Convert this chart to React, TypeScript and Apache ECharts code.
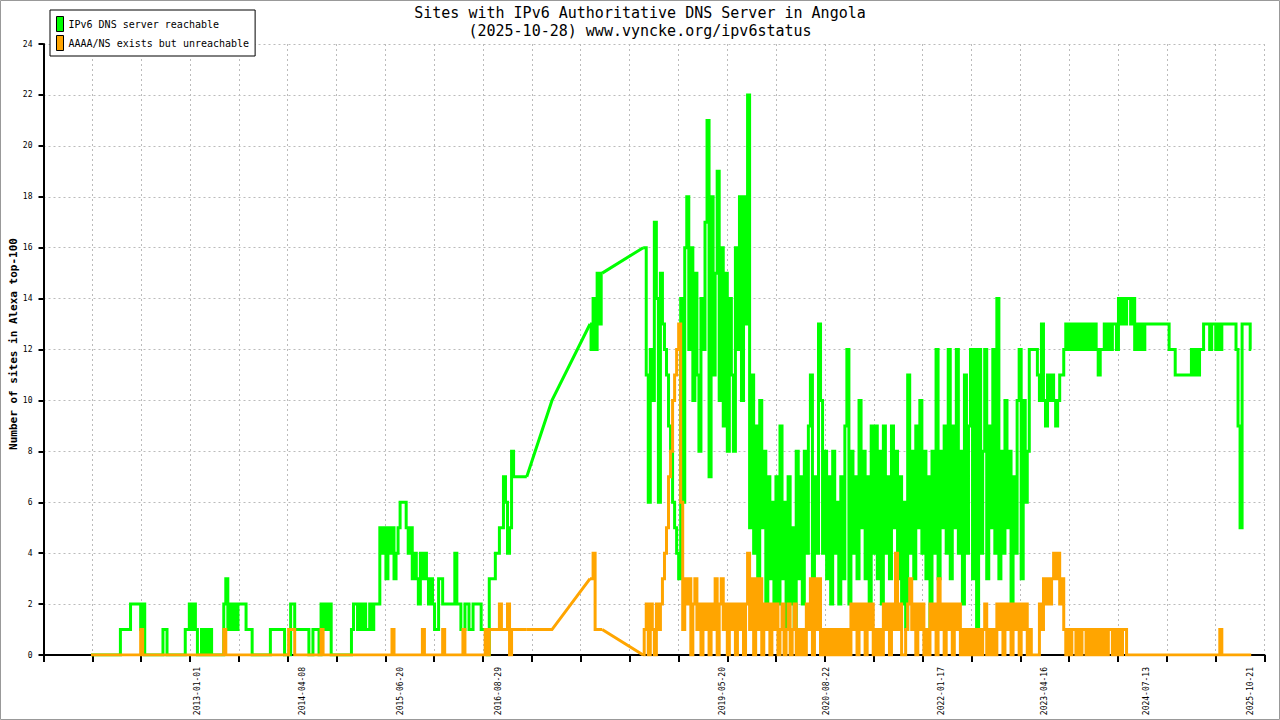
import { useEffect, useRef } from "react";
import * as echarts from "echarts";

const TITLE_LINES = [
  "Sites with IPv6 Authoritative DNS Server in Angola",
  "(2025-10-28) www.vyncke.org/ipv6status",
];
const SERIES_NAMES = ["IPv6 DNS server reachable", "AAAA/NS exists but unreachable"];
const SERIES_COLORS = ["#00ff00", "#ffa500"];
const Y_TITLE = "Number of sites in Alexa top-100";
const X_LABEL_DATES = [
  "2013-01-01", "2014-04-08", "2015-06-20", "2016-08-29", "2019-05-20",
  "2020-08-22", "2022-01-17", "2023-04-16", "2024-07-13", "2025-10-21",
];
const X_MIN_DATE = "2011-02-15";
const X_MAX_DATE = "2025-12-20";
const X_TICK_COUNT = 25;
const Y_MAX = 24;
const Y_STEP = 2;

// samples every STEP_DAYS days, starting at each segment's start date
const STEP_DAYS = 9;

// segment A: 2011-09 .. 2016-12
const START_A = "2011-09-14";
const greenA = [
  0, 0, 0, 0, 0, 0, 0, 0, 0, 0,
  0, 0, 0, 0, 0, 1, 1, 1, 1, 1,
  2, 2, 2, 2, 2, 1, 2, 0, 0, 0,
  0, 0, 0, 0, 0, 0, 1, 1, 0, 0,
  0, 0, 0, 0, 0, 0, 0, 1, 1, 2,
  1, 2, 1, 0, 0, 1, 0, 1, 0, 1,
  0, 0, 0, 0, 0, 0, 2, 3, 1, 2,
  1, 2, 1, 2, 2, 2, 2, 1, 1, 1,
  0, 0, 0, 0, 0, 0, 0, 0, 0, 1,
  1, 1, 1, 1, 1, 1, 0, 0, 0, 2,
  2, 1, 1, 1, 1, 1, 1, 1, 0, 0,
  1, 1, 1, 0, 2, 1, 2, 1, 2, 0,
  0, 0, 0, 0, 0, 0, 0, 0, 0, 1,
  2, 2, 1, 2, 1, 2, 1, 1, 2, 1,
  2, 2, 2, 5, 4, 5, 3, 5, 4, 5,
  3, 4, 5, 6, 6, 6, 5, 4, 5, 3,
  4, 3, 2, 4, 3, 4, 3, 2, 3, 2,
  1, 1, 3, 3, 2, 2, 2, 2, 2, 2,
  4, 2, 2, 1, 1, 2, 2, 1, 1, 2,
  2, 2, 2, 1, 1, 1, 0, 3, 3, 3,
  4, 4, 5, 5, 7, 6, 4, 5, 8, 7,
  7, 7, 7, 7, 7, 7,
];
const orangeA = [
  0, 0, 0, 0, 0, 0, 0, 0, 0, 0,
  0, 0, 0, 0, 0, 0, 0, 0, 0, 0,
  0, 0, 0, 0, 0, 1, 0, 0, 0, 0,
  0, 0, 0, 0, 0, 0, 0, 0, 0, 0,
  0, 0, 0, 0, 0, 0, 0, 0, 0, 0,
  0, 0, 0, 0, 0, 0, 0, 0, 0, 0,
  0, 0, 0, 0, 0, 0, 1, 0, 0, 0,
  0, 0, 0, 0, 0, 0, 0, 0, 0, 0,
  0, 0, 0, 0, 0, 0, 0, 0, 0, 0,
  0, 0, 0, 0, 0, 0, 0, 0, 1, 1,
  1, 0, 0, 0, 0, 0, 0, 0, 0, 0,
  0, 0, 0, 0, 1, 0, 0, 0, 0, 0,
  0, 0, 0, 0, 0, 0, 0, 0, 0, 0,
  0, 0, 0, 0, 0, 0, 0, 0, 0, 0,
  0, 0, 0, 0, 0, 0, 0, 0, 0, 1,
  0, 0, 0, 0, 0, 0, 0, 0, 0, 0,
  0, 0, 0, 0, 1, 0, 0, 0, 0, 0,
  0, 0, 0, 0, 1, 0, 0, 0, 0, 0,
  0, 0, 0, 0, 1, 0, 0, 0, 0, 0,
  0, 0, 0, 0, 0, 1, 0, 1, 1, 1,
  1, 1, 2, 1, 1, 1, 2, 0, 1, 1,
  1, 1, 1, 1, 1, 1,
];

// sparse sample inside the 2017 gap
const GAP_DATES = ["2017-04-22"];
const greenGap = [10];
const orangeGap = [1];

// segment B: autumn 2017
const START_B = "2017-10-08";
const greenB = [13, 12, 14, 12, 15, 13, 15];
const orangeB = [3, 3, 4, 1, 1, 1, 1];

// segment C: 2018-06 .. 2025-10
const START_C = "2018-06-01";
const greenC = [
  16, 16, 11, 6, 12, 10, 17, 14, 6, 15,
  13, 12, 11, 9, 8, 6, 5, 4, 3, 14,
  6, 16, 18, 12, 16, 10, 15, 11, 8, 14,
  12, 17, 21, 7, 18, 11, 15, 19, 10, 16,
  9, 15, 8, 14, 11, 8, 16, 12, 18, 10,
  18, 13, 22, 5, 11, 4, 9, 3, 10, 5,
  8, 2, 7, 3, 6, 1, 7, 2, 9, 3,
  6, 1, 7, 2, 5, 1, 8, 3, 7, 2,
  8, 4, 9, 11, 3, 7, 4, 13, 10, 4,
  8, 3, 7, 2, 8, 4, 6, 2, 7, 3,
  9, 12, 2, 8, 4, 7, 3, 10, 5, 8,
  3, 7, 2, 9, 4, 9, 3, 8, 2, 9,
  4, 7, 3, 9, 5, 8, 3, 7, 2, 6,
  1, 11, 4, 8, 3, 9, 5, 10, 4, 8,
  3, 7, 1, 8, 4, 12, 3, 8, 5, 9,
  4, 12, 3, 9, 5, 12, 4, 8, 2, 11,
  4, 9, 12, 3, 12, 1, 12, 4, 8, 12,
  3, 9, 5, 12, 4, 14, 3, 8, 4, 10,
  5, 8, 2, 7, 4, 10, 12, 3, 10, 6,
  8, 12, 12, 12, 12, 11, 10, 13, 10, 9,
  11, 10, 11, 10, 9, 10, 11, 11, 12, 13,
  12, 13, 12, 13, 12, 13, 12, 13, 12, 13,
  12, 13, 12, 13, 12, 11, 12, 12, 13, 12,
  13, 12, 13, 13, 12, 14, 13, 14, 13, 14,
  14, 13, 14, 12, 13, 12, 13, 12, 13, 13,
  13, 13, 13, 13, 13, 13, 13, 13, 13, 13,
  12, 12, 12, 11, 11, 11, 11, 11, 11, 11,
  11, 12, 11, 12, 11, 12, 12, 13, 13, 13,
  12, 13, 13, 12, 13, 12, 13, 13, 13, 13,
  13, 13, 13, 12, 9, 5, 13, 13, 13, 13,
  12,
];
const orangeC = [
  0, 1, 2, 0, 2, 1, 0, 2, 1, 2,
  3, 4, 5, 7, 8, 10, 11, 12, 13, 6,
  1, 3, 2, 3, 0, 2, 3, 1, 2, 0,
  2, 1, 2, 0, 2, 1, 3, 0, 2, 3,
  1, 2, 0, 2, 1, 2, 0, 2, 1, 2,
  0, 2, 4, 1, 3, 0, 3, 1, 3, 0,
  2, 1, 2, 0, 2, 1, 2, 0, 1, 2,
  0, 1, 2, 0, 1, 2, 0, 1, 0, 1,
  0, 2, 1, 3, 0, 3, 1, 3, 0, 1,
  0, 1, 0, 1, 0, 1, 0, 1, 0, 1,
  0, 1, 0, 2, 1, 2, 0, 2, 1, 2,
  0, 2, 1, 2, 0, 1, 0, 1, 0, 2,
  1, 2, 0, 2, 1, 4, 1, 2, 0, 0,
  1, 2, 3, 1, 2, 0, 2, 1, 2, 0,
  1, 0, 2, 1, 2, 0, 3, 1, 2, 0,
  2, 1, 2, 0, 2, 1, 2, 0, 1, 0,
  1, 0, 1, 0, 1, 0, 1, 0, 1, 2,
  0, 1, 0, 1, 0, 2, 1, 2, 0, 2,
  1, 2, 0, 2, 1, 2, 0, 2, 1, 2,
  0, 1, 0, 0, 0, 0, 2, 1, 3, 2,
  3, 2, 3, 4, 3, 4, 2, 3, 1, 0,
  1, 0, 1, 1, 0, 1, 0, 1, 1, 0,
  1, 0, 1, 0, 1, 0, 1, 0, 1, 0,
  1, 1, 0, 1, 0, 1, 0, 1, 1, 0,
  0, 0, 0, 0, 0, 0, 0, 0, 0, 0,
  0, 0, 0, 0, 0, 0, 0, 0, 0, 0,
  0, 0, 0, 0, 0, 0, 0, 0, 0, 0,
  0, 0, 0, 0, 0, 0, 0, 0, 0, 0,
  0, 0, 0, 0, 0, 1, 0, 0, 0, 0,
  0, 0, 0, 0, 0, 0, 0, 0, 0, 0,
  0,
];

const DAY_MS = 86400000;
const MONO = "DejaVu Sans Mono";

type Pt = [number, number | null];

function ts(d: string): number {
  return Date.parse(d + "T00:00:00Z");
}

function sampled(start: string, values: number[]): Pt[] {
  const t0 = ts(start);
  return values.map((v, i) => [t0 + i * STEP_DAYS * DAY_MS, v] as Pt);
}

// a pair of empty points right after one segment and right before the next
function breakBetween(prev: Pt[], next: Pt[]): Pt[] {
  return [
    [prev[prev.length - 1][0] + DAY_MS / 4, null],
    [next[0][0] - DAY_MS / 4, null],
  ];
}

// daily-style data (drawn with vertical jumps), broken at the data gaps
function stepData(a: number[], b: number[], c: number[]): Pt[] {
  const A = sampled(START_A, a);
  const B = sampled(START_B, b);
  const C = sampled(START_C, c);
  return [...A, ...breakBetween(A, B), ...B, ...breakBetween(B, C), ...C];
}

// straight lines across the periods without daily data
function gapData(a: number[], gap: number[], b: number[], c: number[]): Pt[] {
  const A = sampled(START_A, a);
  const B = sampled(START_B, b);
  const C = sampled(START_C, c);
  const G = GAP_DATES.map((d, i) => [ts(d), gap[i]] as Pt);
  return [A[A.length - 1], ...G, B[0], [B[0][0] + DAY_MS, null], B[B.length - 1], C[0]];
}

function fmtDate(v: number): string {
  return new Date(v).toISOString().slice(0, 10);
}

function lineSeries(name: string, color: string, data: Pt[], step: boolean, z: number) {
  return {
    name,
    type: "line",
    xAxisIndex: 0,
    yAxisIndex: 0,
    data,
    color,
    step: step ? "middle" : false,
    symbol: "none",
    showSymbol: false,
    connectNulls: false,
    lineStyle: { color, width: 3, join: "miter" },
    z,
    silent: true,
  };
}

export default function App() {
  const ref = useRef<HTMLDivElement>(null);

  useEffect(() => {
    if (!ref.current) return;
    const chart = echarts.init(ref.current, null, { renderer: "svg", width: 1280, height: 720 });

    const option: any = {
      animation: false,
      backgroundColor: "#ffffff",
      grid: { left: 43.5, right: 15.5, top: 44, bottom: 65, containLabel: false },
      legend: {
        left: 50,
        top: 10,
        orient: "vertical",
        selectedMode: false,
        backgroundColor: "#ffffff",
        borderColor: "#000000",
        borderWidth: 1,
        borderRadius: 0,
        padding: [6, 6, 5, 6],
        itemGap: 3,
        itemWidth: 7,
        itemHeight: 15,
        itemStyle: { borderColor: "#000000", borderWidth: 1 },
        textStyle: { fontFamily: MONO, fontSize: 10, color: "#000000" },
        data: SERIES_NAMES.map((n) => ({ name: n, icon: "rect" })),
      },
      xAxis: [
        {
          type: "value",
          position: "bottom",
          min: ts(X_MIN_DATE),
          max: ts(X_MAX_DATE),
          axisLine: { show: false },
          axisTick: { show: false },
          splitLine: { show: false },
          axisLabel: {
            customValues: X_LABEL_DATES.map(ts),
            formatter: (v: number) => fmtDate(v),
            rotate: 90,
            margin: 12,
            fontFamily: MONO,
            fontSize: 8,
            color: "#000000",
          },
        },
        {
          type: "value",
          position: "bottom",
          min: 0,
          max: X_TICK_COUNT,
          interval: 1,
          axisLine: { show: true, onZero: false, lineStyle: { color: "#000000", width: 2 } },
          axisTick: { show: true, length: 7, lineStyle: { color: "#000000", width: 2 } },
          axisLabel: { show: false },
          splitLine: { show: true, lineStyle: { color: "#bbbbbb", width: 1, type: [2, 3] } },
        },
      ],
      yAxis: {
        type: "value",
        min: 0,
        max: Y_MAX,
        interval: Y_STEP,
        axisLine: { show: true, lineStyle: { color: "#000000", width: 2 } },
        axisTick: { show: true, length: 5, lineStyle: { color: "#000000", width: 2 } },
        axisLabel: { margin: 11, fontFamily: MONO, fontSize: 8, color: "#000000" },
        splitLine: { show: true, lineStyle: { color: "#bbbbbb", width: 1, type: [2, 3] } },
      },
      series: [
        lineSeries(SERIES_NAMES[0], SERIES_COLORS[0], stepData(greenA, greenB, greenC), true, 2),
        lineSeries("green-gap", SERIES_COLORS[0], gapData(greenA, greenGap, greenB, greenC), false, 2),
        lineSeries(SERIES_NAMES[1], SERIES_COLORS[1], stepData(orangeA, orangeB, orangeC), true, 3),
        lineSeries("orange-gap", SERIES_COLORS[1], gapData(orangeA, orangeGap, orangeB, orangeC), false, 3),
      ],
      graphic: [
        {
          type: "rect",
          silent: true,
          shape: { x: 0.5, y: 0.5, width: 1279, height: 719 },
          style: { fill: "none", stroke: "#999999", lineWidth: 1 },
        },
        {
          type: "text",
          x: 640,
          y: 13,
          silent: true,
          style: {
            text: TITLE_LINES[0],
            fill: "#000000",
            fontFamily: MONO,
            fontSize: 15,
            align: "center",
            verticalAlign: "middle",
          },
        },
        {
          type: "text",
          x: 640,
          y: 31,
          silent: true,
          style: {
            text: TITLE_LINES[1],
            fill: "#000000",
            fontFamily: MONO,
            fontSize: 15,
            align: "center",
            verticalAlign: "middle",
          },
        },
        {
          type: "text",
          x: 13,
          y: 344,
          rotation: Math.PI / 2,
          silent: true,
          style: {
            text: Y_TITLE,
            fill: "#000000",
            fontFamily: MONO,
            fontSize: 11,
            fontWeight: "bold",
            align: "center",
            verticalAlign: "middle",
          },
        },
      ],
    };
    chart.setOption(option);
    return () => chart.dispose();
  }, []);

  return (
    <div
      ref={ref}
      style={{ position: "fixed", left: 0, top: 0, width: 1280, height: 720, background: "#ffffff" }}
    />
  );
}
